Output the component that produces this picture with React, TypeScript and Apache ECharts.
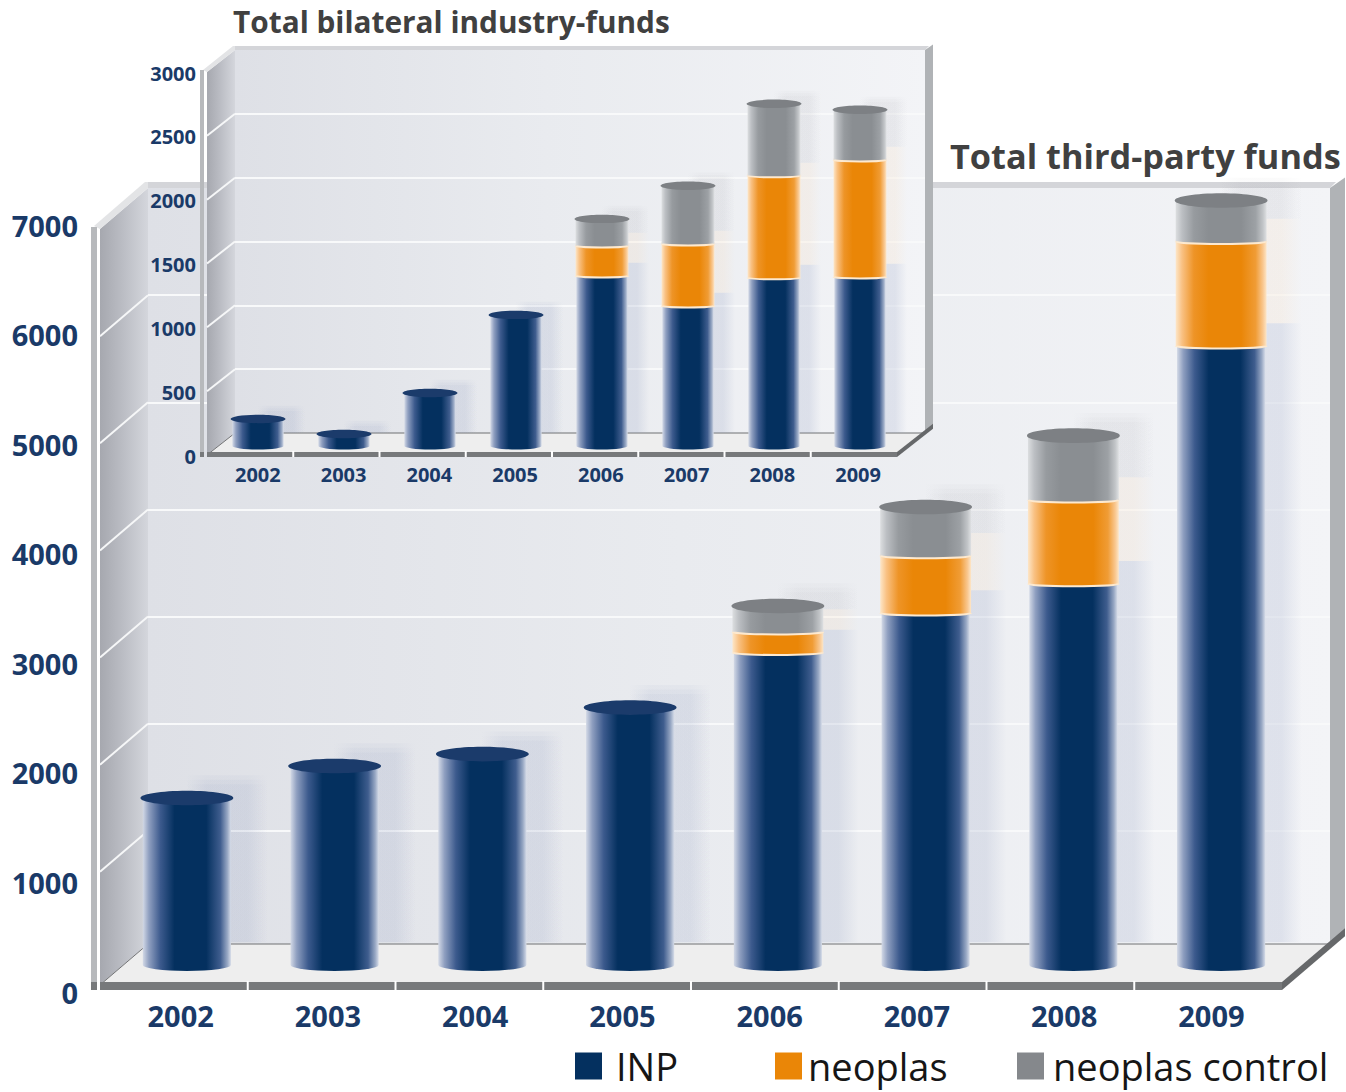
import React, { useEffect, useRef } from "react";
import * as echarts from "echarts";

const years = ["2002", "2003", "2004", "2005", "2006", "2007", "2008", "2009"];

// Total third-party funds
const thirdPartyInp = [1545, 1840, 1950, 2380, 2890, 3255, 3525, 5725];
const thirdPartyNeoplas = [0, 0, 0, 0, 190, 530, 775, 965];
const thirdPartyControl = [0, 0, 0, 0, 240, 450, 595, 380];

// Total bilateral industry-funds
const bilateralInp = [212, 94, 415, 1027, 1332, 1097, 1317, 1324];
const bilateralNeoplas = [0, 0, 0, 0, 235, 486, 799, 917];
const bilateralControl = [0, 0, 0, 0, 212, 455, 564, 392];

const thirdPartyTicks = [1000, 2000, 3000, 4000, 5000, 6000, 7000];
const bilateralTicks = [500, 1000, 1500, 2000, 2500, 3000];

const FONT = "'Open Sans', 'Noto Sans', sans-serif";
const LABEL_COLOR = "#1a3a68";

const { LinearGradient } = echarts.graphic;

const horizontal = (stops: [number, string][]) =>
  new LinearGradient(0, 0, 1, 0, stops.map(([offset, color]) => ({ offset, color })));

type Palette = {
  body: [number, string][];
  cap: string;
  rim: string;
  shadow: string;
  widthScale: number;
};

const navy: Palette = {
  body: [
    [0, "#d3d9e6"],
    [0.07, "#8f9fc0"],
    [0.2, "#3c5a8d"],
    [0.36, "#04305f"],
    [0.72, "#04305f"],
    [0.88, "#3f5d8e"],
    [0.96, "#98a8c4"],
    [1, "#d6dce8"],
  ],
  cap: "#1b3b6b",
  rim: "#fbe6c9",
  shadow: "130,145,185,0.18",
  widthScale: 0.97,
};
const orange: Palette = {
  body: [
    [0, "#fde6c8"],
    [0.07, "#f9c183"],
    [0.2, "#ee9427"],
    [0.36, "#ea8607"],
    [0.72, "#ea8607"],
    [0.88, "#f09c35"],
    [0.96, "#f9c78f"],
    [1, "#fde6c8"],
  ],
  cap: "#d27a10",
  rim: "#fde9cf",
  shadow: "250,195,130,0.1",
  widthScale: 1,
};
const grey: Palette = {
  body: [
    [0, "#dcdee0"],
    [0.07, "#bcbfc3"],
    [0.2, "#979b9f"],
    [0.36, "#8a8e92"],
    [0.72, "#8a8e92"],
    [0.88, "#9da1a5"],
    [0.96, "#c2c5c8"],
    [1, "#dee0e2"],
  ],
  cap: "#7d8084",
  rim: "#fde9cf",
  shadow: "150,150,158,0.13",
  widthScale: 1,
};

// One stacked segment of a cylinder, with the soft projection it throws on the back wall.
const cylinder = (palette: Palette) => (_params: any, api: any) => {
  const index = api.value(0);
  const lo = api.value(1);
  const hi = api.value(2);
  const isTop = api.value(3) === 1;
  if (hi <= lo) return { type: "group", children: [] };

  const [cx, yLo] = api.coord([index, lo]);
  const yHi = api.coord([index, hi])[1];
  const slot = api.size([1, 0])[0];
  const full = slot * 0.615;
  const w = full * palette.widthScale;
  const l = cx - w / 2;
  const r = cx + w / 2;
  const sag = full * (lo === 0 ? 0.065 : 0.028);
  const top = isTop ? yHi : yHi - 2;

  const children: any[] = [];

  const liftY = full * 0.25;
  const sw = full * 0.9;
  const sx = cx + full * 0.44 - sw / 2;
  const rgb = palette.shadow.split(",").slice(0, 3).join(",");
  const shadowFill = horizontal([
    [0, `rgba(${rgb},0)`],
    [0.25, `rgba(${palette.shadow})`],
    [0.75, `rgba(${palette.shadow})`],
    [1, `rgba(${rgb},0)`],
  ]);
  const layers = isTop ? [0, full * 0.05, full * 0.1] : [0];
  layers.forEach((inset) => {
    children.push({
      type: "rect",
      shape: { x: sx, y: yHi - liftY + inset, width: sw, height: yLo - yHi - inset },
      style: { fill: shadowFill, opacity: 1 / layers.length },
      silent: true,
    });
  });

  children.push({
    type: "path",
    shape: {
      pathData: `M${l} ${top}L${r} ${top}L${r} ${yLo}A${w / 2} ${sag} 0 0 1 ${l} ${yLo}Z`,
    },
    style: { fill: horizontal(palette.body) },
  });

  if (lo > 0) {
    children.push({
      type: "path",
      shape: { pathData: `M${l} ${yLo}A${w / 2} ${sag} 0 0 0 ${r} ${yLo}` },
      style: { fill: "none", stroke: palette.rim, lineWidth: 2 },
    });
  }

  if (isTop) {
    children.push({
      type: "ellipse",
      shape: { cx, cy: yHi, rx: full / 2 + 1, ry: full * 0.08 },
      style: { fill: palette.cap },
    });
  }
  return { type: "group", children };
};

// Walls, floor and edges, laid out around the back-wall grid rectangle.
const room =
  (dx: number, dy: number, rightWidth: number, edge: number, strip: number, floorGap: number) =>
  (params: any) => {
    const { x, y, width, height } = params.coordSys;
    const xr = x + width;
    const yb = y + height + floorGap;
    const fx = x - dx;
    const fb = yb + dy;
    const fxr = xr - dx;
    const slope = dy / dx;
    const poly = (points: number[][], fill: any) => ({
      type: "polygon",
      shape: { points },
      style: { fill },
      silent: true,
    });
    const seg = (x1: number, y1: number, x2: number, y2: number, stroke: string, lineWidth = 1) => ({
      type: "line",
      shape: { x1, y1, x2, y2 },
      style: { stroke, lineWidth },
      silent: true,
    });

    const children: any[] = [
      {
        type: "rect",
        shape: { x, y, width, height: yb - y },
        style: {
          fill: horizontal([
            [0, "#dee0e6"],
            [0.45, "#e9ebef"],
            [1, "#f3f4f7"],
          ]),
        },
        silent: true,
      },
      poly(
        [
          [fx, y + dy],
          [x, y],
          [x, yb],
          [fx, fb],
        ],
        horizontal([
          [0, "#a6a8af"],
          [0.5, "#bcbec5"],
          [1, "#d4d6dc"],
        ]),
      ),
      // top edge of the back wall and of the side wall
      poly(
        [
          [x, y - strip],
          [xr + strip, y - strip],
          [xr, y],
          [x, y],
        ],
        "#d4d5d9",
      ),
      poly(
        [
          [fx - strip, y + dy - strip / 2],
          [x - strip / 2, y - strip],
          [x, y - strip],
          [x, y],
          [fx, y + dy],
        ],
        "#e3e4e6",
      ),
      // right edge of the back wall
      poly(
        [
          [xr, y],
          [xr + rightWidth, y - rightWidth * 0.7],
          [xr + rightWidth, yb - rightWidth * slope],
          [xr, yb],
        ],
        "#b0b3b6",
      ),
      // upright at the front of the side wall
      {
        type: "rect",
        shape: { x: fx - strip - 3, y: y + dy - 2, width: strip, height: yb - y + 2 },
        style: { fill: "#b7b9bc" },
        silent: true,
      },
      {
        type: "rect",
        shape: { x: fx - strip - 3, y: fb - 3, width: strip, height: edge },
        style: { fill: "#77797b" },
        silent: true,
      },
      // floor
      poly(
        [
          [fx, fb],
          [x, yb],
          [xr, yb],
          [fxr, fb],
        ],
        "#eeeeee",
      ),
      seg(x, yb, xr, yb, "#6f7072"),
      seg(fx, fb, x, yb, "#737476"),
      // front and right floor edges
      {
        type: "rect",
        shape: { x: fx, y: fb - 3, width: width, height: edge },
        style: { fill: "#77797b" },
        silent: true,
      },
      poly(
        [
          [fxr, fb - 3],
          [fxr + dx + rightWidth, fb - 3 - (dx + rightWidth) * slope],
          [fxr + dx + rightWidth, fb - 3 + edge - (dx + rightWidth) * slope],
          [fxr, fb - 3 + edge],
        ],
        "#66686a",
      ),
    ];
    // separators along the front edge
    for (let i = 1; i < years.length; i++) {
      const tx = fx + (width / years.length) * i;
      children.push(seg(tx, fb - 4, tx, fb - 3 + edge, "#ffffff", 2));
    }
    return { type: "group", children };
  };

// The white lines running across the side wall, one per axis tick.
const sideWallLine = (dx: number, dy: number) => (params: any, api: any) => {
  const y = api.coord([0, api.value(0)])[1];
  const left = params.coordSys.x;
  return {
    type: "line",
    shape: { x1: left - dx, y1: y + dy, x2: left, y2: y },
    style: { stroke: "#f6f7f8", lineWidth: 2 },
    silent: true,
  };
};

const stackData = (a: number[], b: number[], c: number[]) => {
  const hasUpper = (i: number) => b[i] + c[i] > 0;
  return {
    inp: a.map((v, i) => [i, 0, v, hasUpper(i) ? 0 : 1]),
    neoplas: b.map((v, i) => [i, a[i], a[i] + v, 0]),
    control: c.map((v, i) => [i, a[i] + b[i], a[i] + b[i] + v, 1]),
  };
};

const catAxis = (gridIndex: number, fontSize?: number, margin?: number) => ({
  type: "category",
  gridIndex,
  data: years,
  axisLine: { show: false },
  axisTick: { show: false },
  splitLine: { show: false },
  z: 3,
  axisLabel: fontSize
    ? {
        show: true,
        interval: 0,
        margin,
        fontSize,
        fontWeight: "bold",
        fontFamily: FONT,
        color: LABEL_COLOR,
      }
    : { show: false },
});

const valAxis = (
  gridIndex: number,
  max: number,
  interval: number,
  z: number,
  opts: { fontSize?: number; margin?: number; lines?: boolean },
) => ({
  type: "value",
  gridIndex,
  min: 0,
  max,
  interval,
  z,
  axisLine: { show: false },
  axisTick: { show: false },
  splitLine: opts.lines
    ? { show: true, showMinLine: false, showMaxLine: false, lineStyle: { color: "#f8f9fa", width: 2 } }
    : { show: false },
  axisLabel: opts.fontSize
    ? {
        show: true,
        margin: opts.margin,
        fontSize: opts.fontSize,
        fontWeight: "bold",
        fontFamily: FONT,
        color: LABEL_COLOR,
        formatter: (v: number) => String(v),
      }
    : { show: false },
});

const barSeries = (name: string, color: string, palette: Palette, data: number[][], axis: number, z: number) => ({
  type: "custom",
  name,
  xAxisIndex: axis,
  yAxisIndex: axis,
  z,
  itemStyle: { color },
  renderItem: cylinder(palette),
  encode: { x: 0, y: [1, 2] },
  data,
});

const legendEntry = (name: string, left: number, gap: number) => ({
  data: [name],
  left,
  top: 1047,
  icon: "rect",
  itemWidth: 27,
  itemHeight: 27,
  selectedMode: false,
  padding: 0,
  textStyle: { fontSize: 38, fontFamily: FONT, color: "#161616", padding: [0, 0, 0, gap] },
});

export default function App() {
  const ref = useRef<HTMLDivElement>(null);

  useEffect(() => {
    if (!ref.current) return;
    const chart = echarts.init(ref.current, undefined, { renderer: "svg" });
    const main = stackData(thirdPartyInp, thirdPartyNeoplas, thirdPartyControl);
    const inset = stackData(bilateralInp, bilateralNeoplas, bilateralControl);

    const gridAt = (left: number, top: number, width: number, height: number) => ({
      left,
      top,
      width,
      height,
      show: false,
    });

    chart.setOption({
      animation: false,
      backgroundColor: "#ffffff",
      title: [
        {
          text: "Total bilateral industry-funds",
          left: 233,
          top: 6,
          padding: 0,
          textStyle: { fontSize: 29.8, fontWeight: "bold", fontFamily: FONT, color: "#404040" },
        },
        {
          text: "Total third-party funds",
          left: 950,
          top: 138,
          padding: 0,
          textStyle: { fontSize: 34.3, fontWeight: "bold", fontFamily: FONT, color: "#404040" },
        },
      ],
      legend: [legendEntry("INP", 575, 9), legendEntry("neoplas", 775, 1), legendEntry("neoplas control", 1017, 4)],
      grid: [
        gridAt(107, 225, 1178, 767), // third-party labels
        gridAt(113, 208, 1182, 757), // third-party cylinders
        gridAt(148, 188, 1182, 750), // third-party back wall
        gridAt(215, 73, 686, 383), // bilateral labels
        gridAt(215, 63, 688, 383), // bilateral cylinders
        gridAt(235, 50, 690, 383), // bilateral back wall
      ],
      xAxis: [
        catAxis(0, 29, 9),
        catAxis(1),
        catAxis(2),
        catAxis(3, 20, 8),
        catAxis(4),
        catAxis(5),
      ],
      yAxis: [
        valAxis(0, 7000, 1000, 3, { fontSize: 29, margin: 29 }),
        valAxis(1, 7000, 1000, 3, {}),
        valAxis(2, 7000, 1000, 2, { lines: true }),
        valAxis(3, 3000, 500, 14, { fontSize: 20, margin: 19 }),
        valAxis(4, 3000, 500, 14, {}),
        valAxis(5, 3000, 500, 12, { lines: true }),
      ],
      series: [
        {
          type: "custom",
          xAxisIndex: 2,
          yAxisIndex: 2,
          z: 1,
          silent: true,
          renderItem: room(48, 41, 15, 8, 6, 6),
          data: [[0]],
        },
        {
          type: "custom",
          xAxisIndex: 2,
          yAxisIndex: 2,
          z: 2,
          silent: true,
          renderItem: sideWallLine(48, 41),
          encode: { y: 0 },
          data: thirdPartyTicks.slice(0, -1).map((v) => [v]),
        },
        barSeries("INP", "#04305f", navy, main.inp, 1, 5),
        barSeries("neoplas", "#ea8607", orange, main.neoplas, 1, 6),
        barSeries("neoplas control", "#85888c", grey, main.control, 1, 7),
        {
          type: "custom",
          xAxisIndex: 5,
          yAxisIndex: 5,
          z: 10,
          silent: true,
          renderItem: room(28, 22, 8, 5, 4, 0),
          data: [[0]],
        },
        {
          type: "custom",
          xAxisIndex: 5,
          yAxisIndex: 5,
          z: 13,
          silent: true,
          renderItem: sideWallLine(28, 22),
          encode: { y: 0 },
          data: bilateralTicks.slice(0, -1).map((v) => [v]),
        },
        barSeries("INP", "#04305f", navy, inset.inp, 4, 15),
        barSeries("neoplas", "#ea8607", orange, inset.neoplas, 4, 16),
        barSeries("neoplas control", "#85888c", grey, inset.control, 4, 17),
      ],
    });

    return () => chart.dispose();
  }, []);

  return <div ref={ref} style={{ position: "absolute", left: 0, top: 0, width: 1346, height: 1092 }} />;
}
